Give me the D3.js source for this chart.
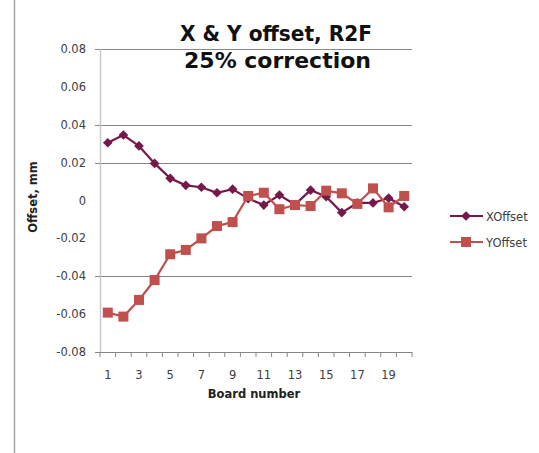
<!DOCTYPE html>
<html><head><meta charset="utf-8">
<script src="https://cdn.jsdelivr.net/npm/d3@7"></script>
<style>body{margin:0;background:#fff}svg{display:block}text{font-family:"DejaVu Sans",sans-serif}</style>
</head><body><svg id="c" width="539" height="453"></svg>
<script>
const boards = d3.range(1, 21);
const xOffset = [0.0305,0.0346,0.0288,0.0196,0.0117,0.008,0.007,0.0041,0.006,0.001,-0.0024,0.0029,-0.0022,0.0055,0.002,-0.0064,-0.0013,-0.0013,0.0013,-0.0033];
const yOffset = [-0.0592,-0.0613,-0.0525,-0.042,-0.0284,-0.0261,-0.020,-0.0135,-0.0114,0.0024,0.0041,-0.0046,-0.0024,-0.0029,0.0052,0.0038,-0.0018,0.0064,-0.0036,0.0024];
const yTicks = [0.08,0.06,0.04,0.02,0,-0.02,-0.04,-0.06,-0.08];
const gridVals = [0.08,0.04,0.02,-0.04];
const tickMarkVals = [0.08,0.04,0.02,-0.04,-0.08];
const xLabels = [1,3,5,7,9,11,13,15,17,19];
const seriesNames = ["XOffset","YOffset"];
const colors = ["#76184a","#c0504d"];

const svg = d3.select("#c");
const L = 100, R = 412, T = 49, B = 352;
const x = d3.scaleBand().domain(boards).range([L, R]);
const y = d3.scaleLinear().domain([-0.08, 0.08]).range([B, T]);

// chart left border
svg.append("line").attr("x1",14.5).attr("x2",14.5).attr("y1",0).attr("y2",453).attr("stroke","#a6a6a6").attr("stroke-width",1.5);

// gridlines
svg.selectAll(".grid").data(gridVals).join("line")
  .attr("x1",L).attr("x2",R).attr("y1",d=>Math.round(y(d))+0.5).attr("y2",d=>Math.round(y(d))+0.5)
  .attr("stroke","#868686").attr("stroke-width",1);

// y axis line
svg.append("line").attr("x1",L+0.5).attr("x2",L+0.5).attr("y1",T).attr("y2",B).attr("stroke","#c8c8c8").attr("stroke-width",1.5);
svg.selectAll(".ytm").data(tickMarkVals).join("line")
  .attr("x1",L-5).attr("x2",L).attr("y1",d=>Math.round(y(d))+0.5).attr("y2",d=>Math.round(y(d))+0.5)
  .attr("stroke","#868686");
const fmt = d => d===0 ? "0" : (d<0?"-":"") + d3.format(".2f")(Math.abs(d));
svg.selectAll(".ylab").data(yTicks).join("text")
  .attr("x",86).attr("y",d=>y(d)+4).attr("text-anchor","end")
  .attr("font-size",11.5).attr("fill","#404040").text(fmt);

// x axis
svg.append("line").attr("x1",L).attr("x2",R).attr("y1",B+0.5).attr("y2",B+0.5).attr("stroke","#868686");
svg.selectAll(".xtm").data(d3.range(0,21)).join("line")
  .attr("x1",d=>L+d*x.step()).attr("x2",d=>L+d*x.step()).attr("y1",B).attr("y2",B+5).attr("stroke","#868686");
svg.selectAll(".xlab").data(xLabels).join("text")
  .attr("x",d=>x(d)+x.bandwidth()/2).attr("y",379).attr("text-anchor","middle")
  .attr("font-size",11.5).attr("fill","#404040").text(d=>d);

// axis titles
svg.append("text").attr("x",254).attr("y",398).attr("text-anchor","middle").attr("font-size",11.5).attr("font-weight","bold").attr("fill","#222").text("Board number");
svg.append("text").attr("transform","translate(37,197) rotate(-90)").attr("text-anchor","middle").attr("font-size",11.5).attr("font-weight","bold").attr("fill","#222").text("Offset, mm");

// title
svg.append("text").attr("x",276).attr("y",41).attr("text-anchor","middle").attr("font-size",21)
  .attr("textLength",192).attr("lengthAdjust","spacingAndGlyphs").attr("font-weight","bold").attr("fill","#111").text("X & Y offset, R2F");
svg.append("text").attr("x",277.5).attr("y",68).attr("text-anchor","middle").attr("font-size",22).attr("font-weight","bold").attr("fill","#111").text("25% correction");

const cx = d => x(d)+x.bandwidth()/2;
const line = d3.line().x(d=>cx(d[0])).y(d=>y(d[1]));
const data = [boards.map((b,i)=>[b,xOffset[i]]), boards.map((b,i)=>[b,yOffset[i]])];

[0,1].forEach(s=>{
  svg.append("path").datum(data[s]).attr("d",line).attr("fill","none").attr("stroke",colors[s]).attr("stroke-width",2.2);
});
const diamond = d3.symbol().type(d3.symbolDiamond2).size(60);
svg.selectAll(".xm").data(data[0]).join("path")
  .attr("transform",d=>`translate(${cx(d[0])},${y(d[1])})`).attr("d",diamond).attr("fill",colors[0]);
svg.selectAll(".ym").data(data[1]).join("rect")
  .attr("x",d=>cx(d[0])-5).attr("y",d=>y(d[1])-5).attr("width",10).attr("height",10).attr("fill",colors[1]);

// legend
const lg = [[0,216],[1,242]];
lg.forEach(([s,ly])=>{
  svg.append("line").attr("x1",450).attr("x2",483).attr("y1",ly).attr("y2",ly).attr("stroke",colors[s]).attr("stroke-width",2.2);
  if(s===0) svg.append("path").attr("transform",`translate(466,${ly})`).attr("d",diamond).attr("fill",colors[0]);
  else svg.append("rect").attr("x",461).attr("y",ly-5).attr("width",10).attr("height",10).attr("fill",colors[1]);
  svg.append("text").attr("x",486).attr("y",ly+4.5).attr("font-size",11.5).attr("fill","#404040").text(seriesNames[s]);
});
</script></body></html>
